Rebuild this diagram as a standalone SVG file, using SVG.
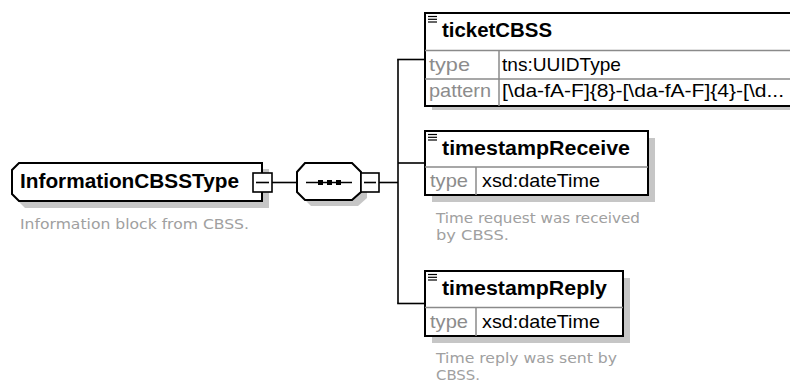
<svg xmlns="http://www.w3.org/2000/svg" width="790" height="386" viewBox="0 0 790 386">
<style>
.bg{fill:#ffffff}
.shadow{fill:#c6c6c6;stroke:none}
.box{fill:#ffffff;stroke:#000000;stroke-width:2}
.div{stroke:#8a8a8a;stroke-width:1.5;fill:none}
.btn{fill:#ffffff;stroke:#000000;stroke-width:1.6}
.wire{stroke:#000000;stroke-width:1.6;fill:none}
.icon{stroke:#000000;stroke-width:1.2}
.name{font-family:"Liberation Sans",Arial,sans-serif;font-weight:bold;font-size:20px;fill:#000000}
.lbl{font-family:"Liberation Sans",Arial,sans-serif;font-size:19px;fill:#8c8c8c}
.val{font-family:"Liberation Sans",Arial,sans-serif;font-size:19px;fill:#000000}
.desc{font-family:"DejaVu Sans","Liberation Sans",sans-serif;font-size:14.5px;fill:#a0a0a0}
</style>
<rect class="bg" x="0" y="0" width="790" height="386"/>

<g id="connectors">
  <line class="wire" x1="272" y1="182.5" x2="297" y2="182.5"/>
  <line class="wire" x1="379" y1="182.5" x2="398" y2="182.5"/>
  <line class="wire" x1="398" y1="59.5" x2="398" y2="303.5"/>
  <line class="wire" x1="397.2" y1="59.5" x2="425" y2="59.5"/>
  <line class="wire" x1="398" y1="163" x2="425" y2="163"/>
  <line class="wire" x1="397.2" y1="303.5" x2="425" y2="303.5"/>
</g>

<g id="InformationCBSSType">
  <path class="shadow" d="M25,169 H269 V208 H25 L18,201 V176 Z"/>
  <path class="box" d="M19,163 H262 V201 H19 L12,194 V170 Z"/>
  <text class="name" x="20" y="188" textLength="219" lengthAdjust="spacingAndGlyphs">InformationCBSSType</text>
  <rect class="btn" x="253" y="173" width="19" height="19"/>
  <line class="wire" x1="256" y1="182.5" x2="269" y2="182.5"/>
  <text class="desc" x="20" y="229" textLength="229" lengthAdjust="spacingAndGlyphs">Information block from CBSS.</text>
</g>

<g id="sequence">
  <path class="shadow" d="M311,169 H358 L367,178 V198 L358,206 H311 L303,198 V178 Z"/>
  <path class="box" d="M305,163 H352 L361,172 V192 L352,200 H305 L297,192 V172 Z"/>
  <line class="wire" x1="306" y1="182.5" x2="352" y2="182.5"/>
  <rect x="318" y="180" width="5" height="5" fill="#000"/>
  <rect x="327" y="180" width="5" height="5" fill="#000"/>
  <rect x="336" y="180" width="5" height="5" fill="#000"/>
  <rect class="btn" x="361" y="173" width="18" height="19"/>
  <line class="wire" x1="364" y1="182.5" x2="376" y2="182.5"/>
</g>

<g id="ticketCBSS">
  <rect class="shadow" x="432" y="20" width="370" height="90"/>
  <rect class="box" x="425" y="13" width="375" height="93"/>
  <line class="div" x1="425" y1="50.5" x2="800" y2="50.5"/>
  <line class="div" x1="425" y1="79" x2="800" y2="79"/>
  <line class="div" x1="499" y1="50.5" x2="499" y2="106"/>
  <line class="icon" x1="428" y1="16.5" x2="437" y2="16.5"/>
  <line class="icon" x1="428" y1="19.3" x2="437" y2="19.3"/>
  <line class="icon" x1="428" y1="22" x2="437" y2="22"/>
  <text class="name" x="442" y="37" textLength="110" lengthAdjust="spacingAndGlyphs">ticketCBSS</text>
  <text class="lbl" x="429" y="71" textLength="41" lengthAdjust="spacingAndGlyphs">type</text>
  <text class="val" x="502" y="71" textLength="119" lengthAdjust="spacingAndGlyphs">tns:UUIDType</text>
  <text class="lbl" x="429" y="97" textLength="62" lengthAdjust="spacingAndGlyphs">pattern</text>
  <text class="val" x="502" y="97" textLength="282" lengthAdjust="spacingAndGlyphs">[\da-fA-F]{8}-[\da-fA-F]{4}-[\d...</text>
</g>

<g id="timestampReceive">
  <rect class="shadow" x="432" y="138" width="223" height="64"/>
  <rect class="box" x="425" y="131" width="223" height="64"/>
  <line class="div" x1="425" y1="167" x2="648" y2="167"/>
  <line class="div" x1="476" y1="167" x2="476" y2="195"/>
  <line class="icon" x1="428" y1="134.5" x2="437" y2="134.5"/>
  <line class="icon" x1="428" y1="137.3" x2="437" y2="137.3"/>
  <line class="icon" x1="428" y1="140" x2="437" y2="140"/>
  <text class="name" x="442" y="155" textLength="188" lengthAdjust="spacingAndGlyphs">timestampReceive</text>
  <text class="lbl" x="430" y="187" textLength="38" lengthAdjust="spacingAndGlyphs">type</text>
  <text class="val" x="482" y="187" textLength="118" lengthAdjust="spacingAndGlyphs">xsd:dateTime</text>
  <text class="desc" x="436" y="223" textLength="204" lengthAdjust="spacingAndGlyphs">Time request was received</text>
  <text class="desc" x="436" y="240" textLength="73" lengthAdjust="spacingAndGlyphs">by CBSS.</text>
</g>

<g id="timestampReply">
  <rect class="shadow" x="432" y="278" width="198" height="65"/>
  <rect class="box" x="425" y="271" width="198" height="65"/>
  <line class="div" x1="425" y1="307.5" x2="623" y2="307.5"/>
  <line class="div" x1="476" y1="307.5" x2="476" y2="336"/>
  <line class="icon" x1="428" y1="274.5" x2="437" y2="274.5"/>
  <line class="icon" x1="428" y1="277.3" x2="437" y2="277.3"/>
  <line class="icon" x1="428" y1="280" x2="437" y2="280"/>
  <text class="name" x="442" y="295" textLength="165" lengthAdjust="spacingAndGlyphs">timestampReply</text>
  <text class="lbl" x="430" y="328" textLength="38" lengthAdjust="spacingAndGlyphs">type</text>
  <text class="val" x="482" y="328" textLength="118" lengthAdjust="spacingAndGlyphs">xsd:dateTime</text>
  <text class="desc" x="436" y="363" textLength="181" lengthAdjust="spacingAndGlyphs">Time reply was sent by</text>
  <text class="desc" x="436" y="380" textLength="44" lengthAdjust="spacingAndGlyphs">CBSS.</text>
</g>
</svg>
